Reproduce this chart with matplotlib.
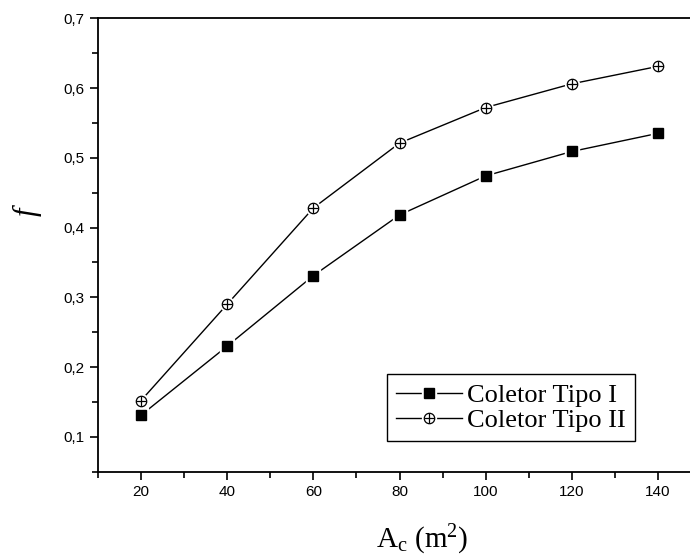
import matplotlib.pyplot as plt
from matplotlib.legend_handler import HandlerTuple
from matplotlib.ticker import MultipleLocator, FuncFormatter

plt.rcParams['mathtext.fontset'] = 'custom'
plt.rcParams['mathtext.rm'] = 'Liberation Serif'
plt.rcParams['mathtext.it'] = 'Liberation Serif:italic'

# data
area = [20, 40, 60, 80, 100, 120, 140]
f_tipo1 = [0.131, 0.230, 0.331, 0.418, 0.474, 0.509, 0.535]
f_tipo2 = [0.152, 0.290, 0.428, 0.521, 0.572, 0.606, 0.631]
labels = ['Coletor Tipo I', 'Coletor Tipo II']

fig = plt.figure(figsize=(6.9, 5.58), dpi=100)
ax = fig.add_axes([0.142, 0.1547, 0.874, 0.8126])

# serie 1: line, white halo, black square
l1, = ax.plot(area, f_tipo1, '-', color='black', lw=1.0)
h1, = ax.plot(area, f_tipo1, ' ', marker='s', ms=10, mfc='white', mec='white')
m1, = ax.plot(area, f_tipo1, ' ', marker='s', ms=7, mfc='black', mec='black')
# serie 2: line, white halo, circle with cross
l2, = ax.plot(area, f_tipo2, '-', color='black', lw=1.0)
h2, = ax.plot(area, f_tipo2, ' ', marker='o', ms=10, mfc='white', mec='white')
m2, = ax.plot(area, f_tipo2, ' ', marker='o', ms=7.5, mfc='white', mec='black', mew=0.9)
p2, = ax.plot(area, f_tipo2, ' ', marker='+', ms=7.5, mec='black', mew=0.9)

ax.set_xlim(10, 150)
ax.set_ylim(0.05, 0.7)
ax.xaxis.set_major_locator(MultipleLocator(20))
ax.xaxis.set_minor_locator(MultipleLocator(10))
ax.yaxis.set_major_locator(MultipleLocator(0.1))
ax.yaxis.set_minor_locator(MultipleLocator(0.05))
ax.yaxis.set_major_formatter(FuncFormatter(lambda v, p: ('%.1f' % v).replace('.', ',')))
ax.set_xticks([20, 40, 60, 80, 100, 120, 140])

for s in ax.spines.values():
    s.set_linewidth(1.3)
ax.spines['right'].set_visible(False)
ax.tick_params(which='both', direction='out', top=False, right=False, width=1.2,
               labelsize=11, labelfontfamily='Liberation Sans')
ax.tick_params(which='major', length=6)
ax.tick_params(which='minor', length=4)

fig.text(422 / 690, (558 - 548) / 558, r'A$_{\rm c}$ (m$^{2}$)', family='Liberation Serif',
         fontsize=21, ha='center', va='baseline')
fig.text(27 / 690, (558 - 212) / 558, 'f', family='Liberation Serif', style='italic',
         fontsize=22, rotation=90, ha='center', va='center')

leg = ax.legend([(l1, h1, m1), (l2, h2, m2, p2)], labels, loc='lower left',
                bbox_to_anchor=(387 / 690, (558 - 441) / 558), bbox_transform=fig.transFigure,
                borderaxespad=0,
                handler_map={tuple: HandlerTuple(ndivide=1)},
                prop={'family': 'Liberation Serif', 'size': 19},
                handlelength=2.5, handletextpad=0.2, borderpad=0.35, labelspacing=0.05,
                fancybox=False, edgecolor='black', framealpha=1)
leg.get_frame().set_linewidth(1.0)

plt.savefig('out.png', dpi=100)
